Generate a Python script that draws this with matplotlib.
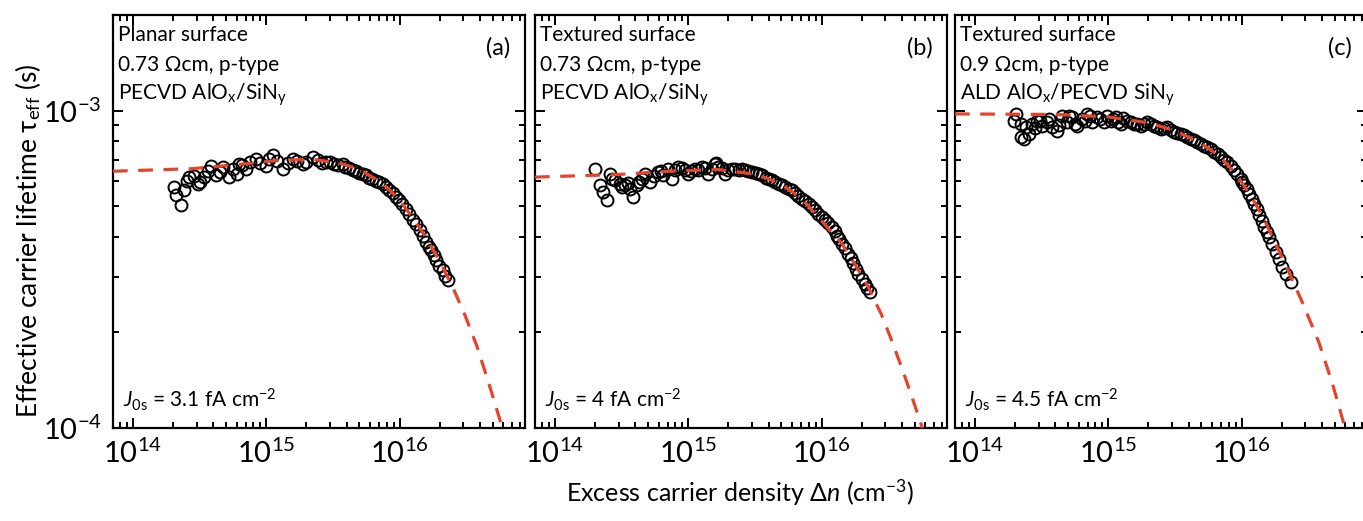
import matplotlib
matplotlib.use("Agg")
import matplotlib.pyplot as plt
import numpy as np
from matplotlib import font_manager
from matplotlib.ticker import LogLocator, NullFormatter


def pick_font(names):
    available = {f.name for f in font_manager.fontManager.ttflist}
    for name in names:
        if name in available:
            return name
    return "DejaVu Sans"


FONT = pick_font(["Liberation Sans Narrow", "Lato", "Liberation Sans"])
plt.rcParams["font.family"] = [FONT, "DejaVu Sans"]
plt.rcParams["mathtext.fontset"] = "custom"
plt.rcParams["mathtext.rm"] = FONT
plt.rcParams["mathtext.it"] = FONT + ":italic"
plt.rcParams["mathtext.bf"] = FONT + ":bold"

# (a) planar, PECVD AlOx/SiNy -- measured lifetime
dn_a = [2.04e14, 2.10e14, 2.30e14, 2.43e14, 2.55e14, 2.65e14, 2.85e14, 3.06e14, 3.20e14,
        3.43e14, 3.65e14, 3.85e14, 4.19e14, 4.50e14, 4.71e14, 5.29e14, 5.60e14, 6.00e14,
        6.28e14, 6.60e14, 7.05e14, 7.60e14, 8.37e14, 9.00e14, 9.95e14, 1.05e15, 1.12e15,
        1.20e15, 1.33e15, 1.45e15, 1.58e15, 1.70e15, 1.87e15, 2.00e15, 2.23e15, 2.45e15,
        2.60e15, 2.80e15, 3.00e15, 3.20e15, 3.45e15, 3.74e15, 3.90e15, 4.15e15, 4.45e15,
        4.70e15, 5.00e15, 5.30e15, 5.60e15, 5.90e15, 6.25e15, 6.65e15, 7.05e15, 7.45e15,
        7.90e15, 8.38e15, 8.85e15, 9.40e15, 9.96e15, 1.05e16, 1.12e16, 1.18e16, 1.25e16,
        1.32e16, 1.41e16, 1.49e16, 1.58e16, 1.65e16, 1.72e16, 1.80e16, 1.88e16, 1.99e16,
        2.10e16, 2.20e16, 2.30e16]
tau_a = [5.74e-4, 5.41e-4, 5.03e-4, 5.60e-4, 6.00e-4, 6.17e-4, 6.20e-4, 5.88e-4, 5.95e-4,
         6.17e-4, 6.45e-4, 6.71e-4, 6.25e-4, 6.40e-4, 6.63e-4, 6.17e-4, 6.55e-4, 6.30e-4,
         6.80e-4, 6.75e-4, 6.56e-4, 6.90e-4, 7.05e-4, 6.85e-4, 6.71e-4, 7.05e-4, 7.22e-4,
         6.95e-4, 6.56e-4, 6.85e-4, 7.05e-4, 6.95e-4, 6.80e-4, 6.90e-4, 7.13e-4, 7.00e-4,
         6.85e-4, 6.88e-4, 6.90e-4, 6.80e-4, 6.75e-4, 6.80e-4, 6.65e-4, 6.60e-4, 6.48e-4,
         6.45e-4, 6.38e-4, 6.30e-4, 6.25e-4, 6.15e-4, 6.08e-4, 6.00e-4, 5.95e-4, 5.85e-4,
         5.75e-4, 5.60e-4, 5.50e-4, 5.35e-4, 5.21e-4, 5.08e-4, 4.91e-4, 4.72e-4, 4.51e-4,
         4.38e-4, 4.20e-4, 4.02e-4, 3.85e-4, 3.72e-4, 3.63e-4, 3.50e-4, 3.38e-4, 3.25e-4,
         3.14e-4, 3.02e-4, 2.92e-4]
fit_dn_a = [7.08e13, 2.80e14, 7.00e14, 1.25e15, 2.20e15, 3.50e15, 5.00e15, 7.00e15, 8.50e15,
            1.00e16, 1.25e16, 1.58e16, 2.00e16, 2.50e16, 3.10e16, 3.80e16, 4.60e16, 5.30e16, 5.90e16]
fit_tau_a = [6.44e-4, 6.56e-4, 6.80e-4, 6.97e-4, 7.02e-4, 6.85e-4, 6.52e-4, 6.00e-4, 5.60e-4,
             5.22e-4, 4.60e-4, 3.98e-4, 3.35e-4, 2.78e-4, 2.26e-4, 1.81e-4, 1.41e-4, 1.16e-4, 1.00e-4]

# (b) textured, PECVD AlOx/SiNy
dn_b = [2.00e14, 2.18e14, 2.30e14, 2.44e14, 2.59e14, 2.70e14, 2.82e14, 3.07e14, 3.20e14,
        3.35e14, 3.50e14, 3.65e14, 3.87e14, 4.10e14, 4.30e14, 4.47e14, 4.73e14, 5.16e14,
        5.50e14, 5.96e14, 6.20e14, 6.49e14, 7.08e14, 7.50e14, 8.00e14, 8.41e14, 9.00e14,
        9.44e14, 1.00e15, 1.05e15, 1.12e15, 1.18e15, 1.26e15, 1.33e15, 1.41e15, 1.50e15,
        1.58e15, 1.62e15, 1.68e15, 1.78e15, 1.88e15, 2.00e15, 2.11e15, 2.25e15, 2.38e15,
        2.51e15, 2.65e15, 2.82e15, 2.99e15, 3.20e15, 3.40e15, 3.55e15, 3.80e15, 4.00e15,
        4.22e15, 4.50e15, 4.75e15, 5.02e15, 5.30e15, 5.65e15, 5.97e15, 6.30e15, 6.70e15,
        7.09e15, 7.50e15, 8.00e15, 8.43e15, 8.90e15, 9.44e15, 1.00e16, 1.06e16, 1.12e16,
        1.19e16, 1.25e16, 1.30e16, 1.36e16, 1.42e16, 1.50e16, 1.59e16, 1.66e16, 1.73e16,
        1.80e16, 1.88e16, 2.00e16, 2.11e16, 2.20e16, 2.31e16]
tau_b = [6.56e-4, 5.81e-4, 5.54e-4, 5.21e-4, 6.32e-4, 6.10e-4, 6.03e-4, 5.88e-4, 5.75e-4,
         5.81e-4, 5.90e-4, 5.67e-4, 5.34e-4, 5.81e-4, 5.95e-4, 6.10e-4, 6.32e-4, 5.95e-4,
         6.20e-4, 6.40e-4, 6.45e-4, 6.25e-4, 6.56e-4, 6.10e-4, 6.50e-4, 6.63e-4, 6.60e-4,
         6.48e-4, 6.32e-4, 6.45e-4, 6.56e-4, 6.50e-4, 6.63e-4, 6.60e-4, 6.32e-4, 6.55e-4,
         6.80e-4, 6.85e-4, 6.63e-4, 6.60e-4, 6.32e-4, 6.50e-4, 6.56e-4, 6.55e-4, 6.50e-4,
         6.56e-4, 6.50e-4, 6.45e-4, 6.40e-4, 6.35e-4, 6.30e-4, 6.25e-4, 6.15e-4, 6.10e-4,
         6.03e-4, 5.95e-4, 5.88e-4, 5.81e-4, 5.74e-4, 5.68e-4, 5.60e-4, 5.50e-4, 5.40e-4,
         5.28e-4, 5.18e-4, 5.08e-4, 4.96e-4, 4.86e-4, 4.73e-4, 4.62e-4, 4.51e-4, 4.42e-4,
         4.30e-4, 4.18e-4, 4.04e-4, 3.93e-4, 3.81e-4, 3.68e-4, 3.54e-4, 3.42e-4, 3.30e-4,
         3.18e-4, 3.06e-4, 2.95e-4, 2.85e-4, 2.76e-4, 2.68e-4]
fit_dn_b = [7.08e13, 2.99e14, 7.08e14, 1.68e15, 2.99e15, 4.00e15, 5.32e15, 7.00e15, 9.44e15,
            1.15e16, 1.42e16, 1.80e16, 2.24e16, 2.82e16, 3.40e16, 4.10e16, 4.80e16, 5.40e16, 5.70e16]
fit_tau_b = [6.17e-4, 6.29e-4, 6.44e-4, 6.52e-4, 6.32e-4, 6.10e-4, 5.75e-4, 5.30e-4, 4.62e-4,
             4.20e-4, 3.81e-4, 3.25e-4, 2.78e-4, 2.27e-4, 1.86e-4, 1.50e-4, 1.24e-4, 1.07e-4, 1.00e-4]

# (c) textured, ALD AlOx / PECVD SiNy
dn_c = [2.02e14, 1.96e14, 2.20e14, 2.20e14, 2.33e14, 2.40e14, 2.54e14, 2.69e14, 2.80e14,
        2.93e14, 3.10e14, 3.20e14, 3.49e14, 3.60e14, 3.80e14, 4.14e14, 4.30e14, 4.52e14,
        4.92e14, 5.10e14, 5.37e14, 5.60e14, 5.85e14, 6.38e14, 6.70e14, 6.96e14, 7.30e14,
        7.59e14, 8.27e14, 8.70e14, 9.28e14, 9.80e14, 1.04e15, 1.08e15, 1.14e15, 1.19e15,
        1.24e15, 1.30e15, 1.39e15, 1.47e15, 1.56e15, 1.65e15, 1.75e15, 1.85e15, 1.96e15,
        2.08e15, 2.20e15, 2.33e15, 2.47e15, 2.60e15, 2.77e15, 2.93e15, 3.11e15, 3.30e15,
        3.49e15, 3.70e15, 3.91e15, 4.15e15, 4.40e15, 4.65e15, 4.93e15, 5.20e15, 5.53e15,
        5.85e15, 6.21e15, 6.60e15, 6.97e15, 7.40e15, 7.81e15, 8.30e15, 8.77e15, 9.30e15,
        9.84e15, 1.01e16, 1.04e16, 1.09e16, 1.14e16, 1.19e16, 1.24e16, 1.30e16, 1.35e16,
        1.41e16, 1.47e16, 1.54e16, 1.61e16, 1.70e16, 1.80e16, 1.91e16, 2.02e16, 2.16e16, 2.33e16]
tau_c = [9.76e-4, 9.30e-4, 9.08e-4, 8.24e-4, 8.15e-4, 8.90e-4, 8.45e-4, 9.08e-4, 8.80e-4,
         9.30e-4, 9.30e-4, 8.97e-4, 9.19e-4, 9.40e-4, 8.86e-4, 8.65e-4, 9.00e-4, 9.64e-4,
         9.19e-4, 9.60e-4, 9.53e-4, 9.10e-4, 8.97e-4, 9.42e-4, 9.30e-4, 9.76e-4, 9.60e-4,
         9.19e-4, 9.53e-4, 9.40e-4, 9.19e-4, 9.60e-4, 9.30e-4, 9.40e-4, 9.53e-4, 9.20e-4,
         9.08e-4, 9.45e-4, 9.30e-4, 9.20e-4, 9.08e-4, 9.10e-4, 8.97e-4, 9.05e-4, 9.19e-4,
         9.10e-4, 8.97e-4, 8.85e-4, 8.76e-4, 8.80e-4, 8.86e-4, 8.70e-4, 8.55e-4, 8.50e-4,
         8.45e-4, 8.35e-4, 8.24e-4, 8.15e-4, 8.05e-4, 7.95e-4, 7.86e-4, 7.75e-4, 7.67e-4,
         7.55e-4, 7.40e-4, 7.28e-4, 7.13e-4, 7.00e-4, 6.88e-4, 6.68e-4, 6.48e-4, 6.30e-4,
         6.10e-4, 5.95e-4, 5.81e-4, 5.65e-4, 5.47e-4, 5.28e-4, 5.09e-4, 4.88e-4, 4.68e-4,
         4.50e-4, 4.30e-4, 4.15e-4, 4.00e-4, 3.80e-4, 3.58e-4, 3.40e-4, 3.21e-4, 3.05e-4, 2.88e-4]
fit_dn_c = [7.08e13, 4.00e14, 1.00e15, 2.00e15, 3.00e15, 4.00e15, 5.00e15, 6.00e15, 7.00e15,
            8.50e15, 1.00e16, 1.15e16, 1.30e16, 1.50e16, 1.70e16, 2.20e16, 2.90e16, 3.80e16,
            4.80e16, 5.97e16]
fit_tau_c = [9.76e-4, 9.72e-4, 9.55e-4, 9.15e-4, 8.70e-4, 8.25e-4, 7.85e-4, 7.47e-4, 7.10e-4,
             6.50e-4, 5.95e-4, 5.45e-4, 5.00e-4, 4.48e-4, 4.00e-4, 3.18e-4, 2.45e-4, 1.86e-4,
             1.38e-4, 1.00e-4]

panel_tags = ["(a)", "(b)", "(c)"]
panel_notes = [
    ["Planar surface", "0.73 Ωcm, p-type", r"PECVD AlO$_\mathregular{x}$/SiN$_\mathregular{y}$"],
    ["Textured surface", "0.73 Ωcm, p-type", r"PECVD AlO$_\mathregular{x}$/SiN$_\mathregular{y}$"],
    ["Textured surface", "0.9 Ωcm, p-type", r"ALD AlO$_\mathregular{x}$/PECVD SiN$_\mathregular{y}$"],
]
j0s_values = ["3.1", "4", "4.5"]

series = [
    (dn_a, tau_a, fit_dn_a, fit_tau_a),
    (dn_b, tau_b, fit_dn_b, fit_tau_b),
    (dn_c, tau_c, fit_dn_c, fit_tau_c),
]

W, H = 1363, 521
fig = plt.figure(figsize=(W / 100, H / 100), dpi=100)

# panel frames in pixels; the last one runs slightly past the right edge
lefts = [113, 535, 955]
ax_w, ax_top, ax_bot = 412, 15, 428
ax_h = ax_bot - ax_top
fit_color = "#e5432b"

for i, (dn, tau, fdn, ftau) in enumerate(series):
    ax = fig.add_axes([lefts[i] / W, 1 - ax_bot / H, ax_w / W, ax_h / H])
    ax.plot(dn, tau, "o", ms=8.6, mfc="none", mec="black", mew=1.4, zorder=2)
    ax.plot(fdn, ftau, color=fit_color, lw=2.3, ls=(0, (4.6, 3.3)), zorder=3)

    ax.set_xscale("log")
    ax.set_yscale("log")
    ax.set_xlim(7.08e13, 8.72e16)
    ax.set_ylim(1e-4, 2e-3)

    for axis in (ax.xaxis, ax.yaxis):
        axis.set_major_locator(LogLocator(base=10, numticks=10))
        axis.set_minor_locator(LogLocator(base=10, subs=np.arange(2, 10), numticks=20))
        axis.set_minor_formatter(NullFormatter())
    ax.tick_params(which="both", direction="in", top=True, right=True, width=1.4)
    ax.tick_params(which="major", length=7, labelsize=21, pad=8)
    ax.tick_params(which="minor", length=4)
    if i > 0:
        ax.tick_params(axis="y", labelleft=False)
    for sp in ax.spines.values():
        sp.set_linewidth(1.6)

    for k, line in enumerate(panel_notes[i]):
        ax.text(5 / ax_w, 1 - (20 + 30 * k) / ax_h, line,
                transform=ax.transAxes, fontsize=15, va="center", ha="left")
    ax.text(1 - 27 / ax_w, 1 - 33 / ax_h, panel_tags[i],
            transform=ax.transAxes, fontsize=17, va="center", ha="center")
    ax.text(10 / ax_w, 28 / ax_h,
            r"$\mathit{J}_\mathregular{0s}$ = " + j0s_values[i] + r" fA cm$^\mathregular{-2}$",
            transform=ax.transAxes, fontsize=15, va="center", ha="left")

fig.text(740 / W, 1 - 493 / H, r"Excess carrier density Δ$\mathit{n}$ (cm$^\mathregular{-3}$)",
         fontsize=18, ha="center", va="center")
fig.text(28 / W, 1 - 241 / H, r"Effective carrier lifetime τ$_\mathregular{eff}$ (s)",
         fontsize=19, ha="center", va="center", rotation=90)

fig.savefig("out.png", dpi=100)
